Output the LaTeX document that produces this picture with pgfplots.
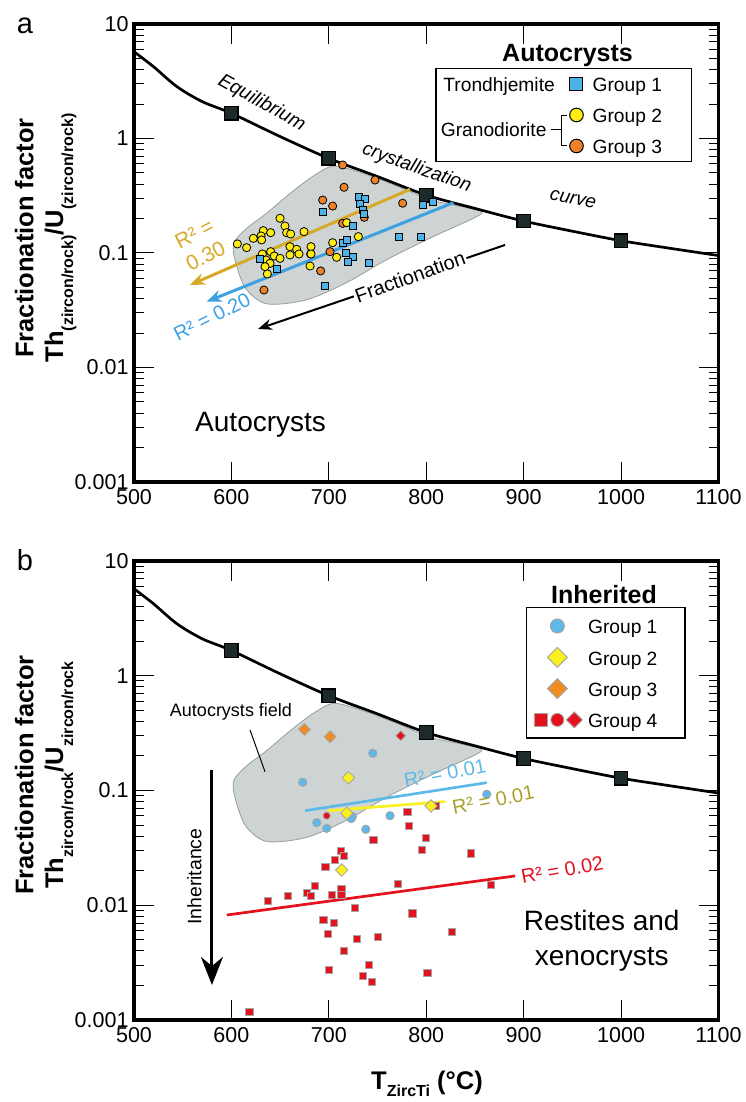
\documentclass[border=0pt]{standalone}
\usepackage{fontspec}
\setmainfont{Liberation Sans}
\usepackage{pgfplots}
\pgfplotsset{compat=1.18}
\usetikzlibrary{arrows.meta}
\newcommand{\fs}[1]{\fontsize{#1bp}{#1bp}\selectfont}
\definecolor{ablue}{RGB}{77,178,230}
\definecolor{ayellow}{RGB}{255,236,20}
\definecolor{aorange}{RGB}{238,130,40}
\definecolor{field}{RGB}{206,212,212}
\definecolor{fieldedge}{RGB}{150,158,158}
\definecolor{gold}{RGB}{214,170,40}
\definecolor{arrowblue}{RGB}{60,160,225}
\definecolor{sqfill}{RGB}{28,42,42}
\definecolor{bblue}{RGB}{95,185,232}
\definecolor{byellow}{RGB}{250,240,30}
\definecolor{borange}{RGB}{240,140,35}
\definecolor{bred}{RGB}{228,18,28}
\definecolor{olive}{RGB}{170,160,45}
\definecolor{markedge}{RGB}{165,165,165}
\begin{document}
\begin{tikzpicture}
\path[use as bounding box] (0,0) rectangle (746bp,1102bp);

% ================= Panel a =================
\begin{axis}[at={(134bp,620bp)}, anchor=south west,
   scale only axis, width=584.5bp, height=458bp,
   xmin=500, xmax=1100, ymode=log, ymin=0.001, ymax=10,
   xtick={500,600,700,800,900,1000,1100},
   xticklabels={500,600,700,800,900,1000,1100},
   ytick={0.001,0.01,0.1,1,10},
   yticklabels={0.001,0.01,0.1,1,10},
   minor ytick={0.002,0.003,0.004,0.005,0.006,0.007,0.008,0.009,0.02,0.03,0.04,0.05,0.06,0.07,0.08,0.09,0.2,0.3,0.4,0.5,0.6,0.7,0.8,0.9,2,3,4,5,6,7,8,9},
   tick align=inside,
   major tick length=20bp, minor tick length=10bp,
   major tick style={line width=1bp, black},
   minor tick style={line width=1bp, black},
   axis line style={line width=3.3bp},
   tick label style={font=\fs{21.5}},
   xticklabel style={yshift=-4bp},
   yticklabel style={xshift=-2bp},
   legend cell align=left,
   legend image code/.code={\draw[#1] plot coordinates {(0bp,0bp)};},
   legend style={at={(0.7454,0.8915)}, anchor=north west, draw=none, fill=none,
    inner sep=0pt, outer sep=0pt, row sep=10.4bp, column sep=9.3bp, font=\fs{19.2},
    nodes={inner sep=0pt, text height=18bp, text depth=2.6bp}}]
 \addplot[fill=field, draw=fieldedge, line width=0.8bp, smooth cycle, forget plot] coordinates {
  (603,0.125) (616,0.165) (636,0.222) (660,0.33) (684,0.47) (706,0.575) (740,0.48) (773,0.375) (805,0.29) (840,0.25) (857,0.228) (848,0.2) (808,0.14) (760,0.088) (718,0.055) (677,0.039) (636,0.036) (614,0.05) (603,0.092)};
 \addplot[black, line width=2.7bp, smooth, forget plot] coordinates {
  (500,5.73) (520,4.24) (544,2.84) (570,2.1) (600,1.66) (650,1.04) (700,0.67) (750,0.465) (800,0.32) (850,0.245) (900,0.19) (950,0.155) (1000,0.128) (1050,0.11) (1100,0.095)};
 \addplot[only marks, mark=square*, mark size=6.7bp, mark options={fill=sqfill, draw=black, line width=1.3bp}, forget plot] coordinates {
  (600,1.66) (700,0.67) (800,0.32) (900,0.19) (1000,0.128)};
 \addplot[gold, line width=3bp, -{Stealth[length=15bp,width=12bp]}, forget plot] coordinates {(783.3,0.36) (557.5,0.0526)};
 \addplot[arrowblue, line width=3bp, -{Stealth[length=15bp,width=12bp]}, forget plot] coordinates {(827.8,0.275) (574.6,0.0376)};
 \addplot[black, line width=2bp, -{Stealth[length=14bp,width=11bp]}, forget plot] coordinates {(880.9,0.1175) (627.3,0.0217)};
 % Group 3 (orange)
 \addplot[only marks, mark=*, mark size=4.1bp, mark options={fill=aorange, draw=black, line width=0.8bp}, forget plot] coordinates {
  (714.2,0.587) (747.4,0.434) (715.6,0.375) (693.7,0.290) (703.9,0.257) (775.8,0.272) (736.4,0.205) (714.2,0.1815) (681.3,0.098) (701.2,0.1027) (691.6,0.0697) (633.4,0.0475)};
 % Group 2 (yellow)
 \addplot[only marks, mark=*, mark size=4.1bp, mark options={fill=ayellow, draw=black, line width=0.8bp}, forget plot] coordinates {
  (649.9,0.201) (655.0,0.172) (656.7,0.1505) (660.8,0.1466) (674.5,0.1536) (632.7,0.1567) (640.3,0.1505) (630.4,0.1408) (622.5,0.1343) (631.0,0.130) (606.1,0.120) (615.6,0.1113) (660.1,0.1136) (667.0,0.1077) (681.7,0.1136) (640.3,0.1027) (631.7,0.098) (644.0,0.0941) (649.9,0.0898) (635.5,0.0869) (639.6,0.0812) (634.5,0.076) (636.9,0.0656) (660.1,0.0961) (669.4,0.098) (681.7,0.098) (680.7,0.077) (703.9,0.123) (708.0,0.0917) (730.3,0.139) (718.3,0.184)};
 % Group 1 (blue squares)
 \addplot[only marks, mark=square*, mark size=3.5bp, mark options={fill=ablue, draw=black, line width=0.8bp}, forget plot] coordinates {
  (731.3,0.310) (737.5,0.294) (732.0,0.268) (734.7,0.2375) (736.1,0.219) (693.7,0.2296) (724.5,0.172) (714.2,0.123) (718.3,0.130) (717.6,0.0993) (725.1,0.0917) (719.3,0.084) (741.6,0.0823) (696.4,0.0515) (629.3,0.088) (646.4,0.072) (772.4,0.137) (794.6,0.137) (797.0,0.262) (806.6,0.281)};
 \addlegendimage{only marks, mark=square*, mark size=6.5bp, mark options={fill=ablue, draw=black, line width=1bp}}
 \addlegendentry{Group 1}
 \addlegendimage{only marks, mark=*, mark size=6.8bp, mark options={fill=ayellow, draw=black, line width=1bp}}
 \addlegendentry{Group 2}
 \addlegendimage{only marks, mark=*, mark size=6.8bp, mark options={fill=aorange, draw=black, line width=1bp}}
 \addlegendentry{Group 3}
\end{axis}

% ================= Panel b =================
\begin{axis}[at={(134bp,82bp)}, anchor=south west,
   scale only axis, width=584.5bp, height=459bp,
   xmin=500, xmax=1100, ymode=log, ymin=0.001, ymax=10,
   xtick={500,600,700,800,900,1000,1100},
   xticklabels={500,600,700,800,900,1000,1100},
   ytick={0.001,0.01,0.1,1,10},
   yticklabels={0.001,0.01,0.1,1,10},
   minor ytick={0.002,0.003,0.004,0.005,0.006,0.007,0.008,0.009,0.02,0.03,0.04,0.05,0.06,0.07,0.08,0.09,0.2,0.3,0.4,0.5,0.6,0.7,0.8,0.9,2,3,4,5,6,7,8,9},
   tick align=inside,
   major tick length=20bp, minor tick length=10bp,
   major tick style={line width=1bp, black},
   minor tick style={line width=1bp, black},
   axis line style={line width=3.3bp},
   tick label style={font=\fs{21.5}},
   xticklabel style={yshift=-4bp},
   yticklabel style={xshift=-2bp},
   legend cell align=left,
   legend image code/.code={\draw[#1] plot coordinates {(0bp,0bp)};},
   legend style={at={(0.6843,0.8808)}, anchor=north west, draw=none, fill=none,
    inner sep=0pt, outer sep=0pt, row sep=10.7bp, column sep=5.3bp, font=\fs{19.2},
    nodes={inner sep=0pt, text height=18bp, text depth=2.6bp}}]
 \addplot[fill=field, draw=fieldedge, line width=0.8bp, smooth cycle, forget plot] coordinates {
  (603,0.125) (616,0.165) (636,0.222) (660,0.33) (684,0.47) (706,0.575) (740,0.48) (773,0.375) (805,0.29) (840,0.25) (857,0.228) (848,0.2) (808,0.14) (760,0.088) (718,0.055) (677,0.039) (636,0.036) (614,0.05) (603,0.092)};
 \addplot[black, line width=2.7bp, smooth, forget plot] coordinates {
  (500,5.73) (520,4.24) (544,2.84) (570,2.1) (600,1.66) (650,1.04) (700,0.67) (750,0.465) (800,0.32) (850,0.245) (900,0.19) (950,0.155) (1000,0.128) (1050,0.11) (1100,0.095)};
 \addplot[only marks, mark=square*, mark size=6.7bp, mark options={fill=sqfill, draw=black, line width=1.3bp}, forget plot] coordinates {
  (600,1.66) (700,0.67) (800,0.32) (900,0.19) (1000,0.128)};
 % regression lines
 \addplot[bred, line width=2.7bp, forget plot] coordinates {(595.2,0.00822) (891.2,0.0180)};
 \addplot[bblue, line width=2.7bp, forget plot] coordinates {(675.6,0.0667) (862.1,0.117)};
 \addplot[byellow, line width=2.7bp, forget plot] coordinates {(699.5,0.0667) (819.3,0.080)};
 % inheritance arrow
 \addplot[black, line width=3bp, -{Stealth[length=28bp,width=22bp]}, forget plot] coordinates {(580,0.151) (580,0.00202)};
 % Group 4 squares
 \addplot[only marks, mark=square*, mark size=3.6bp, mark options={fill=bred, draw=markedge, line width=0.9bp}, forget plot] coordinates {
  (780.6,0.0654) (782.4,0.0494) (799.8,0.0383) (745.7,0.0370) (795.4,0.0303) (712.2,0.0299) (715.6,0.0269) (706.4,0.0248) (696.5,0.0214) (845.7,0.0283) (771.1,0.0153) (685.9,0.0147) (677.3,0.01287) (681.4,0.0120) (703.3,0.01228) (712.9,0.01376) (712.9,0.01228) (658.1,0.01204) (637.6,0.01089) (866.2,0.0151) (726.9,0.0094) (785.8,0.0085) (694.4,0.00744) (705.4,0.00696) (699.2,0.00562) (728.6,0.00505) (750.2,0.00532) (826.5,0.00585) (715.6,0.00402) (741.3,0.00304) (700.5,0.00271) (735.0,0.00242) (744.4,0.00216) (801.2,0.00258) (618.6,0.00117) (810,0.0733)};
 % Group 4 circle and diamond
 \addplot[only marks, mark=*, mark size=3.6bp, mark options={fill=bred, draw=markedge, line width=0.8bp}, forget plot] coordinates {(697.8,0.0603)};
 \addplot[only marks, mark=square*, mark size=3.4bp, mark options={rotate=45, fill=bred, draw=markedge, line width=0.8bp}, forget plot] coordinates {(773.8,0.30)};
 % Group 1 circles
 \addplot[only marks, mark=*, mark size=4.2bp, mark options={fill=bblue, draw=markedge, line width=0.8bp}, forget plot] coordinates {
  (745.1,0.211) (673.2,0.118) (687.6,0.0525) (697.8,0.0468) (724.2,0.0592) (723,0.057) (737.9,0.0459) (762.8,0.0603) (862.1,0.0926)};
 % Group 2 diamonds
 \addplot[only marks, mark=square*, mark size=4.4bp, mark options={rotate=45, fill=byellow, draw=markedge, line width=0.8bp}, forget plot] coordinates {
  (720.1,0.129) (718.4,0.0633) (804.9,0.0733) (713.2,0.0203)};
 % Group 3 diamonds
 \addplot[only marks, mark=square*, mark size=4.2bp, mark options={rotate=45, fill=borange, draw=markedge, line width=0.8bp}, forget plot] coordinates {
  (674.9,0.341) (701.3,0.294)};
 \addlegendimage{only marks, mark=*, mark size=7bp, mark options={fill=bblue, draw=markedge, line width=1bp}}
 \addlegendentry{Group 1}
 \addlegendimage{only marks, mark=square*, mark size=7bp, mark options={rotate=45, fill=byellow, draw=markedge, line width=1bp}}
 \addlegendentry{Group 2}
 \addlegendimage{only marks, mark=square*, mark size=7bp, mark options={rotate=45, fill=borange, draw=markedge, line width=1bp}}
 \addlegendentry{Group 3}
 \addlegendimage{legend image code/.code={
   \draw[fill=bred, draw=markedge, line width=0.8bp] (-23bp,-6.5bp) rectangle (-10bp,6.5bp);
   \draw[fill=bred, draw=markedge, line width=0.8bp] (0bp,0bp) circle (6.5bp);
   \draw[fill=bred, draw=markedge, line width=0.8bp] (17bp,-8bp) -- (25bp,0bp) -- (17bp,8bp) -- (9bp,0bp) -- cycle;}}
 \addlegendentry{Group 4}
\end{axis}

% ================= Annotations (image pixel coordinates) =================
\begin{scope}[shift={(0,1102bp)}, x=1bp, y=-1bp]
 \node[anchor=base] at (25,33.3) {\fs{29}a};
 \node[anchor=base] at (25,570.3) {\fs{29}b};
 \node[rotate=90, anchor=base] at (33.3,238) {\fs{25.5}\bfseries Fractionation factor};
 \node[rotate=90, anchor=base] at (63,238) {\fs{25.5}\bfseries Th\raisebox{-10bp}{\fs{16}(zircon/rock)}/U\raisebox{-10bp}{\fs{16}(zircon/rock)}};
 \node[rotate=90, anchor=base] at (33.3,775) {\fs{25.5}\bfseries Fractionation factor};
 \node[rotate=90, anchor=base] at (63,775) {\fs{25.5}\bfseries Th\raisebox{-10bp}{\fs{16}zircon/rock}/U\raisebox{-10bp}{\fs{16}zircon/rock}};
 \node[anchor=base] at (427,1090) {\fs{25.5}\bfseries T\raisebox{-7bp}{\fs{16}ZircTi} (°C)};

 \node[rotate=-29] at (261.7,103.3) {\fs{19.5}\itshape Equilibrium};
 \node[rotate=-19.6] at (416.7,168.3) {\fs{19}\itshape crystallization};
 \node[rotate=-12] at (573,199) {\fs{19}\itshape curve};
 \node[rotate=20, fill=white, inner sep=1.5bp] at (410,276.7) {\fs{20}Fractionation};
 \node[rotate=27, align=center, text=gold, font=\fontsize{21bp}{25bp}\selectfont] at (200,245) {R² =\\0.30};
 \node[rotate=27, text=arrowblue] at (212,316.7) {\fs{20}R² = 0.20};
 \node at (260.6,424.8) {\fs{28}Autocrysts};
 \draw[line width=1.3bp] (436,68.3) rectangle (691.7,161.7);
 \node at (567.5,55.8) {\fs{25}\bfseries Autocrysts};
 \node[anchor=base east] at (558.3,91.7) {\fs{19.2}Trondhjemite};
 \node[anchor=base east] at (550,136.7) {\fs{19.2}Granodiorite};
 \draw[line width=1bp] (550.5,130) -- (561.7,130);
 \draw[line width=1bp] (566.7,116) -- (561.7,116) -- (561.7,146) -- (566.7,146);

 \node at (231,711.7) {\fs{18}Autocrysts field};
 \draw[line width=1bp] (250,730) -- (265,771.7);
 \node[rotate=90] at (194.5,876.7) {\fs{19.5}Inheritance};
 \node[rotate=11, text=bblue] at (445,773.3) {\fs{20}R² = 0.01};
 \node[rotate=11, text=olive] at (493.3,800) {\fs{20}R² = 0.01};
 \node[rotate=10, text=bred] at (562.3,870) {\fs{20}R² = 0.02};
 \node[align=center, font=\fontsize{28bp}{35bp}\selectfont] at (601.7,940.8) {Restites and\\xenocrysts};
 \draw[line width=1.3bp] (526.7,607.7) rectangle (685,738);
 \node at (604,595) {\fs{25}\bfseries Inherited};
\end{scope}
\end{tikzpicture}
\end{document}
